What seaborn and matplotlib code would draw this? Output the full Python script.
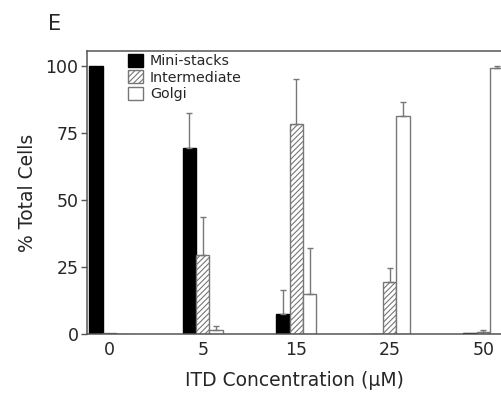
import numpy as np
import pandas as pd
import matplotlib
matplotlib.use("Agg")
import matplotlib.pyplot as plt
import seaborn as sns

# data
concentrations = ["0", "5", "15", "25", "50"]
mini_stacks = [100, 69.5, 7.5, 0, 0.3]
mini_stacks_err = [0, 13, 9, 0, 0]
intermediate = [0.3, 29.5, 78.3, 19.5, 0.8]
intermediate_err = [0, 14, 17, 5, 0.7]
golgi = [0, 1.5, 14.8, 81.2, 99.3]
golgi_err = [0, 1.6, 17.5, 5.4, 0.6]
categories = ["Mini-stacks", "Intermediate", "Golgi"]

df = pd.DataFrame({
    "conc": concentrations * 3,
    "pct": mini_stacks + intermediate + golgi,
    "err": mini_stacks_err + intermediate_err + golgi_err,
    "state": [c for c in categories for _ in concentrations],
})

sns.set_style("white")
plt.rcParams["font.family"] = ["DejaVu Sans"]
plt.rcParams["hatch.color"] = "#888888"
plt.rcParams["hatch.linewidth"] = 0.8

fig = plt.figure(figsize=(5.02, 3.93), dpi=100)
ax = fig.add_axes([0.173, 0.150, 0.827, 0.720])

sns.barplot(data=df, x="conc", y="pct", hue="state", order=concentrations,
            hue_order=categories, width=0.43, gap=0,
            palette=["black", "white", "white"], edgecolor="#777777",
            linewidth=1.0, errorbar=None, ax=ax)

# style bars and add upward SD error bars
bars = ax.patches[:len(df)]
for i, p in enumerate(bars):
    state = categories[i // len(concentrations)]
    if state == "Mini-stacks":
        p.set_edgecolor("black")
    elif state == "Intermediate":
        p.set_hatch("//////")
    row = df.iloc[i]
    if row["err"] > 0:
        xc = p.get_x() + p.get_width() / 2
        ax.errorbar(xc, p.get_height(), yerr=[[0], [row["err"]]], fmt="none",
                    ecolor="#777777", elinewidth=1.0, capsize=2, capthick=1.0)

ax.set_xlim(-0.24, 4.2)
ax.set_ylim(0, 105.6)
ax.set_yticks([0, 25, 50, 75, 100])
ax.tick_params(axis="y", labelsize=12.5, length=4, width=1, color="#555555",
               direction="out", left=True, pad=2)
ax.tick_params(axis="x", labelsize=12.5, length=0, pad=5)
ax.set_xlabel("ITD Concentration (\u03bcM)", fontsize=13.5, labelpad=9)
ax.set_ylabel("% Total Cells", fontsize=13.5, labelpad=6)

for s in ["left", "bottom", "top"]:
    ax.spines[s].set_color("#555555")
    ax.spines[s].set_linewidth(1.1)
ax.spines["right"].set_visible(False)

handles, labels = ax.get_legend_handles_labels()
handles[1].set_hatch("//////")
handles[0].set_edgecolor("black")
ax.legend(handles, labels, loc="upper left", bbox_to_anchor=(0.099, 0.99),
          frameon=False, fontsize=10.3, handlelength=1.05, handleheight=1.0,
          handletextpad=0.5, labelspacing=0.15, borderaxespad=0, borderpad=0)

fig.text(0.095, 0.924, "E", fontsize=15, va="baseline")

fig.savefig("out.png", dpi=100)
